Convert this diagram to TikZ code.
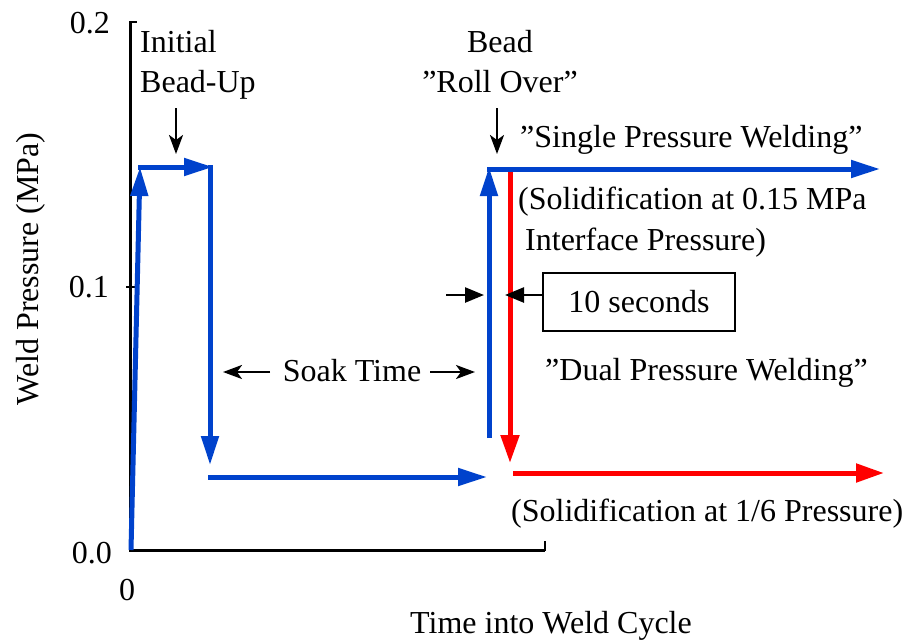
\documentclass[tikz,border=0pt]{standalone}
\usepackage{fontspec}
\setmainfont{Liberation Serif}
\usetikzlibrary{arrows.meta}
\definecolor{pblue}{RGB}{0,66,204}
\definecolor{pred}{RGB}{255,0,0}
\tikzset{
  txt/.style={inner sep=0pt, font=\fontsize{32}{38}\selectfont},
  axisline/.style={line width=3pt, black},
  bluearrow/.style={line width=5pt, pblue, -{Triangle[length=29pt,width=17pt]}},
  redarrow/.style={line width=5pt, pred, -{Triangle[length=28pt,width=18pt]}},
  pointer/.style={line width=2.5pt, black, -{Stealth[length=19pt,width=14pt,inset=5pt]}},
  pointerb/.style={line width=2.5pt, black, -{Triangle[length=19pt,width=15pt]}},
}
\begin{document}
\begin{tikzpicture}[x=1pt,y=-1pt]
\useasboundingbox (0,0) rectangle (912,640);
% axes
\coordinate (ytop) at (130,22);
\coordinate (orig) at (130,550);
\coordinate (xend) at (545,550);
\draw[axisline] (ytop) -- (orig) -- (xend);
\coordinate (t2a) at (129,22); \coordinate (t2b) at (137,22);
\coordinate (t1a) at (126,287); \coordinate (t1b) at (135,287);
\coordinate (txa) at (545,551); \coordinate (txb) at (545,541);
\draw[line width=2.5pt] (t2a) -- (t2b);
\draw[line width=2pt] (t1a) -- (t1b);
\draw[line width=2pt] (txa) -- (txb);
% axis labels
\node[txt, anchor=base east] (l02) at (110,33) {0.2};
\node[txt, anchor=base east] (l01) at (109,297) {0.1};
\node[txt, anchor=base east] (l00) at (112,563) {0.0};
\node[txt, anchor=base] (lx0) at (127,600) {0};
\node[txt, anchor=base, rotate=90] (ylab) at (38,269) {Weld Pressure (MPa)};
\node[txt, anchor=base] (xlab) at (551,633) {Time into Weld Cycle};
% blue path
\coordinate (b0) at (131,550); \coordinate (b1) at (140,167);
\coordinate (b2) at (138,167); \coordinate (b3) at (213,167);
\coordinate (b4) at (210,165); \coordinate (b5) at (210,465);
\coordinate (b6) at (208,477); \coordinate (b7) at (487,477);
\coordinate (b8) at (489,438); \coordinate (b9) at (489,167);
\coordinate (b10) at (487,169); \coordinate (b11) at (880,169);
\draw[bluearrow] (b0) -- (b1);
\draw[bluearrow] (b2) -- (b3);
\draw[bluearrow] (b4) -- (b5);
\draw[bluearrow] (b6) -- (b7);
\draw[bluearrow] (b8) -- (b9);
\draw[bluearrow] (b10) -- (b11);
% red path
\coordinate (r0) at (510,172); \coordinate (r1) at (510,463);
\coordinate (r2) at (513,473); \coordinate (r3) at (884,473);
\draw[redarrow] (r0) -- (r1);
\draw[redarrow] (r2) -- (r3);
% texts
\node[txt, anchor=base west] (ini) at (140,52) {Initial};
\node[txt, anchor=base west] (bup) at (140,92) {Bead-Up};
\node[txt, anchor=base] (bead) at (500,52) {Bead};
\node[txt, anchor=base] (roll) at (500,92) {”Roll Over”};
\node[txt, anchor=base west] (spw) at (520,147) {”Single Pressure Welding”};
\node[txt, anchor=base west] (sol1) at (518,209) {(Solidification at 0.15 MPa};
\node[txt, anchor=base west] (sol2) at (525,250) {Interface Pressure)};
\node[txt, anchor=base west] (dpw) at (545,380) {”Dual Pressure Welding”};
\node[txt, anchor=base west] (sol3) at (511,521) {(Solidification at 1/6 Pressure)};
\node[txt, anchor=base] (soak) at (352,381) {Soak Time};
\node[txt, draw, line width=1.5pt, minimum width=192pt, minimum height=58pt] (ten) at (639,302) {10 seconds};
% pointers
\coordinate (pa0) at (176,108); \coordinate (pa1) at (176,154);
\coordinate (pb0) at (497,108); \coordinate (pb1) at (497,154);
\draw[pointer] (pa0) -- (pa1);
\draw[pointer] (pb0) -- (pb1);
\coordinate (sk0) at (270,372); \coordinate (sk1) at (223,372);
\coordinate (sk2) at (430,372); \coordinate (sk3) at (475,372);
\draw[pointer] (sk0) -- (sk1);
\draw[pointer] (sk2) -- (sk3);
\coordinate (tn0) at (446,295); \coordinate (tn1) at (484,295);
\coordinate (tn2) at (ten.west |- tn0); \coordinate (tn3) at (505,295);
\draw[pointerb] (tn0) -- (tn1);
\draw[pointerb] (tn2) -- (tn3);
\end{tikzpicture}
\end{document}
